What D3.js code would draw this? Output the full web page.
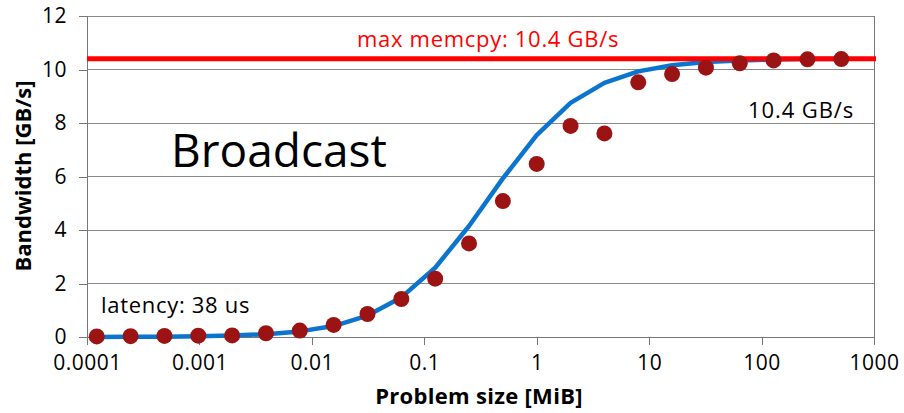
<!DOCTYPE html>
<html>
<head>
<meta charset="utf-8">
<script src="https://cdn.jsdelivr.net/npm/d3@7"></script>
<style>
  html, body { margin: 0; padding: 0; background: #fff; }
  svg { display: block; }
  text { font-family: "Open Sans", "DejaVu Sans", sans-serif; }
</style>
</head>
<body>
<svg id="chart" width="904" height="413"></svg>
<script>
// Problem sizes in MiB (128 B ... 512 MiB)
const sizes = [0.00012207, 0.00024414, 0.00048828, 0.00097656, 0.0019531, 0.0039063, 0.0078125,
  0.015625, 0.03125, 0.0625, 0.125, 0.25, 0.5, 1, 2, 4, 8, 16, 32, 64, 128, 256, 512];
// Measured bandwidth [GB/s] (dots)
const measured = [0.02, 0.03, 0.04, 0.05, 0.06, 0.14, 0.24, 0.45, 0.86, 1.42, 2.18, 3.50, 5.08,
  6.47, 7.89, 7.61, 9.52, 9.83, 10.07, 10.23, 10.34, 10.38, 10.39];
// Model bandwidth [GB/s] (blue line)
const model = [0.003, 0.007, 0.014, 0.027, 0.054, 0.107, 0.21, 0.41, 0.80, 1.48, 2.59, 4.15, 5.93,
  7.55, 8.75, 9.50, 9.93, 10.16, 10.28, 10.34, 10.37, 10.39, 10.39];
const maxMemcpy = 10.4;
const xTicks = [0.0001, 0.001, 0.01, 0.1, 1, 10, 100, 1000];
const xTickLabels = ["0.0001", "0.001", "0.01", "0.1", "1", "10", "100", "1000"];
const yTicks = [0, 2, 4, 6, 8, 10, 12];

const svg = d3.select("#chart");
const m = { left: 87, right: 874, top: 16, bottom: 337 };

const x = d3.scaleLog().domain([0.0001, 1000]).range([m.left, m.right]);
const y = d3.scaleLinear().domain([0, 12]).range([m.bottom, m.top]);

// Horizontal gridlines
svg.append("g").selectAll("line").data(yTicks.filter(d => d > 0)).join("line")
  .attr("x1", m.left).attr("x2", m.right)
  .attr("y1", d => y(d)).attr("y2", d => y(d))
  .attr("stroke", "#8a8a8a").attr("stroke-width", 1).attr("shape-rendering", "crispEdges");

// Right border
svg.append("line").attr("x1", m.right).attr("x2", m.right).attr("y1", m.top).attr("y2", m.bottom)
  .attr("stroke", "#777").attr("shape-rendering", "crispEdges");

// Y axis
const yAxis = d3.axisLeft(y).tickValues(yTicks).tickSize(8).tickPadding(12).tickFormat(d3.format("d"));
const gy = svg.append("g").attr("transform", `translate(${m.left},0)`).call(yAxis);
gy.select(".domain").attr("stroke", "#777").attr("shape-rendering", "crispEdges");
gy.selectAll(".tick line").attr("stroke", "#777").attr("shape-rendering", "crispEdges");
gy.selectAll(".tick text").attr("font-size", 21).attr("fill", "#000")
  .attr("font-family", "'Open Sans', sans-serif").attr("letter-spacing", 0.5);

// X axis
const xAxis = d3.axisBottom(x).tickValues(xTicks).tickSize(8).tickPadding(10)
  .tickFormat((d, i) => xTickLabels[i]);
const gx = svg.append("g").attr("transform", `translate(0,${m.bottom})`).call(xAxis);
gx.select(".domain").attr("stroke", "#777").attr("shape-rendering", "crispEdges");
gx.selectAll(".tick line").attr("stroke", "#777").attr("shape-rendering", "crispEdges");
gx.selectAll(".tick text").attr("font-size", 21).attr("fill", "#000")
  .attr("font-family", "'Open Sans', sans-serif").attr("letter-spacing", 0.5);

// Model line
const line = d3.line().x((d, i) => x(sizes[i])).y(d => y(d));
svg.append("path").datum(model).attr("d", line)
  .attr("fill", "none").attr("stroke", "#0b74cf").attr("stroke-width", 4.5)
  .attr("stroke-linejoin", "round");

// Max memcpy line
svg.append("line").attr("x1", m.left).attr("x2", m.right + 2)
  .attr("y1", y(maxMemcpy)).attr("y2", y(maxMemcpy))
  .attr("stroke", "#ff0000").attr("stroke-width", 5);

// Measured points
svg.append("g").selectAll("circle").data(measured).join("circle")
  .attr("cx", (d, i) => x(sizes[i])).attr("cy", d => y(d)).attr("r", 8)
  .attr("fill", "#9c1313");

// Annotations
svg.append("text").attr("x", 357).attr("y", 47)
  .attr("font-size", 22).attr("letter-spacing", 0.7).attr("fill", "#ff0000").text("max memcpy: 10.4 GB/s");
svg.append("text").attr("x", 748).attr("y", 118)
  .attr("font-size", 22).attr("letter-spacing", 0.9).attr("fill", "#000").text("10.4 GB/s");
svg.append("text").attr("x", 101).attr("y", 313)
  .attr("font-size", 22).attr("letter-spacing", 0.7).attr("fill", "#000").text("latency: 38 us");
svg.append("text").attr("x", 171).attr("y", 167)
  .attr("font-size", 46).attr("fill", "#000")
  .attr("font-family", "'Liberation Sans', Arial, sans-serif").text("Broadcast");

// Axis titles
svg.append("text").attr("x", 479).attr("y", 404).attr("text-anchor", "middle")
  .attr("font-size", 22).attr("font-weight", "bold").attr("letter-spacing", 0.3)
  .attr("fill", "#000").text("Problem size [MiB]");
svg.append("text").attr("transform", "translate(31,176) rotate(-90)").attr("text-anchor", "middle")
  .attr("font-size", 22).attr("font-weight", "bold").attr("fill", "#000").text("Bandwidth [GB/s]");
</script>
</body>
</html>
